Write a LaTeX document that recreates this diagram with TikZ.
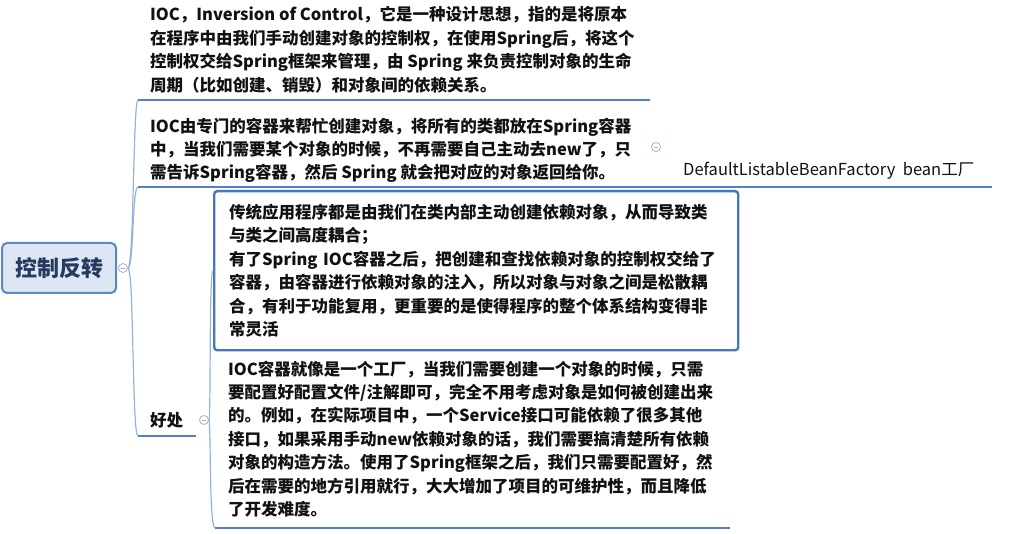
\documentclass[tikz,border=0pt]{standalone}
\usepackage{fontspec}
\setmainfont{Noto Sans CJK SC}
\usetikzlibrary{positioning}
\definecolor{rootfill}{HTML}{DCE6F4}
\definecolor{rootline}{HTML}{5B87C5}
\definecolor{roottext}{HTML}{243B5E}
\definecolor{branchc}{HTML}{95B3DC}
\definecolor{ulinec}{HTML}{4F80C8}
\definecolor{boxline}{HTML}{4A74BE}
\definecolor{foldc}{HTML}{9FB3CC}
\definecolor{bodytext}{HTML}{111111}

\begin{document}
\begin{tikzpicture}[x=1pt, y=-1pt,
    every node/.style={inner sep=0pt, text=bodytext},
    root/.style={draw=rootline, fill=rootfill, line width=2pt, rounded corners=5pt,
                 minimum width=114pt, minimum height=50pt, text=roottext,
                 font=\bfseries\fontsize{22}{24}\selectfont},
    topic/.style={anchor=north west, align=left, font=\bfseries\fontsize{16.5}{23.4}\selectfont},
    sub/.style={anchor=west, font=\fontsize{16.5}{20}\selectfont},
    notebox/.style={topic, draw=boxline, line width=2.4pt, rounded corners=3pt,
                    inner xsep=15pt, inner ysep=13pt, text width=494pt},
    fold/.style={circle, draw=foldc, line width=0.8pt, minimum size=9pt, fill=white,
                 path picture={\draw[foldc, line width=0.8pt]
                   ([xshift=-2.2pt]path picture bounding box.center) -- ([xshift=2.2pt]path picture bounding box.center);}},
    branch/.style={draw=branchc, line width=1.2pt},
    uline/.style={draw=ulinec, line width=2.2pt}
  ]
  \useasboundingbox (0,0) rectangle (1027,534);

  % root
  \node[root] (root) at (59,268) {控制反转};
  \node[fold] (f0) at (123,268) {};

  % underline ends
  \coordinate (iocA) at (138,100);  \coordinate (iocB) at (650,100);
  \coordinate (ctnA) at (138,187);  \coordinate (ctnB) at (668,187);
  \coordinate (bfB) at (992,187);
  \coordinate (gainA) at (138,436); \coordinate (gainB) at (196,436);
  \coordinate (ideaA) at (215,528); \coordinate (ideaB) at (730,528);

  % topics
  \node[topic] (ioc) at (150,6.5) {IOC，Inversion of Control，它是一种设计思想，指的是将原本\\
    在程序中由我们手动创建对象的控制权，在使用Spring后，将这个\\
    控制权交给Spring框架来管理，由 Spring 来负责控制对象的生命\\
    周期（比如创建、销毁）和对象间的依赖关系。};
  \node[topic] (ctn) at (150,117.5) {IOC由专门的容器来帮忙创建对象，将所有的类都放在Spring容器\\
    中，当我们需要某个对象的时候，不再需要自己主动去new了，只\\
    需告诉Spring容器，然后 Spring 就会把对应的对象返回给你。};
  \node[fold] (f1) at (656,147) {};
  \node[sub] (bf) at (683,171) {DefaultListableBeanFactory\ \ bean工厂};

  \node[topic, anchor=west] (gain) at (150,420) {好处};
  \node[fold] (f2) at (204,420) {};

  \node[notebox] (cpl) at (213,190) {传统应用程序都是由我们在类内部主动创建依赖对象，从而导致类\\
    与类之间高度耦合；\\
    有了Spring IOC容器之后，把创建和查找依赖对象的控制权交给了\\
    容器，由容器进行依赖对象的注入，所以对象与对象之间是松散耦\\
    合，有利于功能复用，更重要的是使得程序的整个体系结构变得非\\
    常灵活};
  \node[topic] (idea) at (228,360.5) {IOC容器就像是一个工厂，当我们需要创建一个对象的时候，只需\\
    要配置好配置文件/注解即可，完全不用考虑对象是如何被创建出来\\
    的。例如，在实际项目中，一个Service接口可能依赖了很多其他\\
    接口，如果采用手动new依赖对象的话，我们需要搞清楚所有依赖\\
    对象的构造方法。使用了Spring框架之后，我们只需要配置好，然\\
    后在需要的地方引用就行，大大增加了项目的可维护性，而且降低\\
    了开发难度。};

  % branches
  \draw[branch] (f0.east) .. controls (134,268) and (133,100) .. (iocA);
  \draw[branch] (f0.east) .. controls (134,268) and (132,187) .. (ctnA);
  \draw[branch] (f0.east) .. controls (134,268) and (132,436) .. (gainA);
  \draw[branch] (f2.east) .. controls (211,420) and (209,268) .. (cpl.west);
  \draw[branch] (f2.east) .. controls (211,420) and (209,528) .. (ideaA);

  % underlines
  \draw[uline] (iocA) -- (iocB);
  \draw[uline] (ctnA) -- (ctnB) -- (bfB);
  \draw[uline] (gainA) -- (gainB);
  \draw[uline] (ideaA) -- (ideaB);
\end{tikzpicture}
\end{document}
